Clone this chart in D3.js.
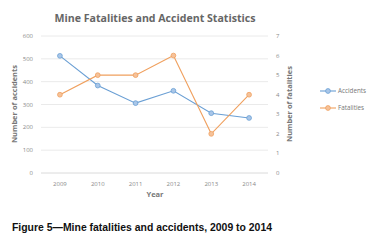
<!DOCTYPE html>
<html>
<head>
<meta charset="utf-8">
<script src="https://cdn.jsdelivr.net/npm/d3@7"></script>
<style>
  body { margin: 0; background: #fff; }
  text { font-family: "Open Sans", "DejaVu Sans", sans-serif; }
  text.caption { font-family: "Liberation Sans", Arial, sans-serif; }
</style>
</head>
<body>
<div id="chart"></div>
<script>
const years = ["2009", "2010", "2011", "2012", "2013", "2014"];
const accidents = [513, 383, 306, 360, 262, 241];
const fatalities = [4, 5, 5, 6, 2, 4];
const leftTicks = [0, 100, 200, 300, 400, 500, 600];
const rightTicks = [0, 1, 2, 3, 4, 5, 6, 7];

const width = 372, height = 247;
const margin = { top: 36, left: 41, right: 104, bottom: 74 };

const svg = d3.select("#chart")
  .append("svg")
  .attr("width", width)
  .attr("height", height);

const x = d3.scaleBand()
  .domain(years)
  .range([margin.left, width - margin.right]);

const yL = d3.scaleLinear()
  .domain([0, 600])
  .range([height - margin.bottom, margin.top]);

const yR = d3.scaleLinear()
  .domain([0, 7])
  .range([height - margin.bottom, margin.top]);

// gridlines
svg.append("g")
  .selectAll("line")
  .data(leftTicks)
  .join("line")
  .attr("x1", margin.left)
  .attr("x2", width - margin.right)
  .attr("y1", d => yL(d))
  .attr("y2", d => yL(d))
  .attr("stroke", d => d === 0 ? "#d0d0d0" : "#e4e4e4")
  .attr("stroke-width", 0.8);

// left tick labels
svg.append("g")
  .selectAll("text")
  .data(leftTicks)
  .join("text")
  .attr("x", 33)
  .attr("y", d => yL(d) + 2)
  .attr("text-anchor", "end")
  .attr("font-size", 6)
  .attr("fill", "#8a8a8a")
  .text(d => d);

// right tick labels
svg.append("g")
  .selectAll("text")
  .data(rightTicks)
  .join("text")
  .attr("x", 276)
  .attr("y", d => yR(d) + 2)
  .attr("font-size", 6)
  .attr("fill", "#8a8a8a")
  .text(d => d);

// x tick labels
svg.append("g")
  .selectAll("text")
  .data(years)
  .join("text")
  .attr("x", d => x(d) + x.bandwidth() / 2)
  .attr("y", 186)
  .attr("text-anchor", "middle")
  .attr("font-size", 6)
  .attr("fill", "#8a8a8a")
  .text(d => d);

// title
svg.append("text")
  .attr("x", 155)
  .attr("y", 22)
  .attr("text-anchor", "middle")
  .attr("font-size", 10.6)
  .attr("font-weight", "bold")
  .attr("fill", "#666")
  .text("Mine Fatalities and Accident Statistics");

// axis titles
svg.append("text")
  .attr("transform", "translate(17,104) rotate(-90)")
  .attr("text-anchor", "middle")
  .attr("font-size", 7.5)
  .attr("font-weight", "bold")
  .attr("fill", "#777")
  .text("Number of accidents");

svg.append("text")
  .attr("transform", "translate(292,104) rotate(-90)")
  .attr("text-anchor", "middle")
  .attr("font-size", 7.5)
  .attr("font-weight", "bold")
  .attr("fill", "#777")
  .text("Number of fatalities");

svg.append("text")
  .attr("x", 155)
  .attr("y", 197)
  .attr("text-anchor", "middle")
  .attr("font-size", 7.5)
  .attr("font-weight", "bold")
  .attr("fill", "#777")
  .text("Year");

const series = [
  { name: "Accidents", values: accidents, y: yL, color: "#6a9fd4", fill: "#a9c6e8" },
  { name: "Fatalities", values: fatalities, y: yR, color: "#f0a05e", fill: "#f5c29a" }
];

series.forEach(s => {
  const line = d3.line()
    .x((d, i) => x(years[i]) + x.bandwidth() / 2)
    .y(d => s.y(d));

  svg.append("path")
    .datum(s.values)
    .attr("d", line)
    .attr("fill", "none")
    .attr("stroke", s.color)
    .attr("stroke-width", 1.1);

  svg.append("g")
    .selectAll("circle")
    .data(s.values)
    .join("circle")
    .attr("cx", (d, i) => x(years[i]) + x.bandwidth() / 2)
    .attr("cy", d => s.y(d))
    .attr("r", 2.4)
    .attr("fill", s.fill)
    .attr("stroke", s.color)
    .attr("stroke-width", 0.8);
});

// legend
const legend = svg.append("g")
  .selectAll("g")
  .data(series)
  .join("g")
  .attr("transform", (d, i) => `translate(320,${91 + i * 17})`);

legend.append("line")
  .attr("x1", 0).attr("x2", 16)
  .attr("stroke", d => d.color)
  .attr("stroke-width", 1.1);

legend.append("circle")
  .attr("cx", 8)
  .attr("r", 2.4)
  .attr("fill", d => d.fill)
  .attr("stroke", d => d.color)
  .attr("stroke-width", 0.8);

legend.append("text")
  .attr("x", 18)
  .attr("y", 2.2)
  .attr("font-size", 6.3)
  .attr("fill", "#777")
  .text(d => d.name);

// caption
svg.append("text")
  .attr("class", "caption")
  .attr("x", 12)
  .attr("y", 231)
  .attr("font-size", 10)
  .attr("font-weight", "bold")
  .attr("fill", "#111")
  .attr("textLength", 260)
  .attr("lengthAdjust", "spacingAndGlyphs")
  .text("Figure 5\u2014Mine fatalities and accidents, 2009 to 2014");
</script>
</body>
</html>
